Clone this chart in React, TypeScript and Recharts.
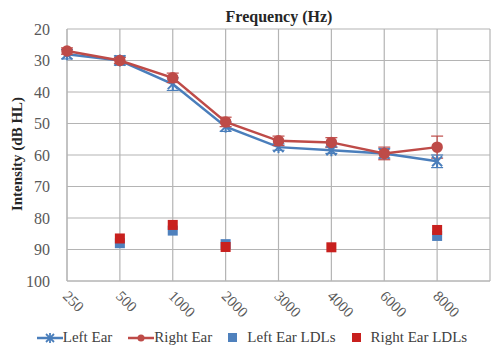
import React from 'react';
import { ComposedChart, Line, XAxis, YAxis, CartesianGrid, Legend, ErrorBar } from 'recharts';

const categories = ['250', '500', '1000', '2000', '3000', '4000', '6000', '8000'];
const leftEar = [28, 30, 37.5, 51, 57.5, 58.5, 59.5, 62];
const rightEar = [27, 30, 35.5, 49.5, 55.5, 56, 59.5, 57.5];
const leftErr = [1.5, 1.5, 2, 1.5, 1, 1, 1.5, 2];
const rightErr = [1, 1, 1.5, 1.5, 1.5, 1.5, 2, 3.5];
const leftLdl = [null, 88, 84, 88.3, null, null, null, 85.7];
const rightLdl = [null, 86.5, 82.2, 89.2, null, 89.3, null, 83.8];
const yTicks = [20, 30, 40, 50, 60, 70, 80, 90, 100];

const BLUE = '#4a7ebb';
const RED = '#be4b48';
const SQ_BLUE = '#4f81bd';
const SQ_RED = '#c8201e';
const FONT = "'Times New Roman', 'Liberation Serif', Times, serif";

const data = categories.map((c, i) => ({
    idx: i,
    left: leftEar[i],
    right: rightEar[i],
    leftErr: leftErr[i],
    rightErr: rightErr[i],
    leftLdl: leftLdl[i],
    rightLdl: rightLdl[i],
}));

const StarDot = (props: any) => {
    const { cx, cy } = props;
    if (cx == null || cy == null) return null;
    const s = 5;
    return (
        <g stroke={BLUE} strokeWidth={2}>
            <line x1={cx - s} y1={cy - s} x2={cx + s} y2={cy + s} />
            <line x1={cx - s} y1={cy + s} x2={cx + s} y2={cy - s} />
            <line x1={cx} y1={cy - s - 1} x2={cx} y2={cy + s + 1} />
        </g>
    );
};

const squareDot = (color: string) => (props: any) => {
    const { cx, cy, value } = props;
    if (cx == null || cy == null || value == null) return null;
    return <rect x={cx - 5} y={cy - 5} width={10} height={10} fill={color} />;
};

const XTick = (props: any) => {
    const { x, y, payload } = props;
    return (
        <text
            transform={`translate(${x - 5}, ${y + 8}) rotate(45)`}
            textAnchor="start"
            style={{ fontFamily: FONT }}
            fontSize={15}
            fill="#595959"
        >
            {categories[payload.value]}
        </text>
    );
};

const LegendContent = () => (
    <div style={{ display: 'flex', justifyContent: 'center', gap: 16, fontFamily: FONT, fontSize: 15, color: '#404040', marginLeft: 14 }}>
        <span style={{ display: 'flex', alignItems: 'center' }}>
            <svg width={26} height={12}>
                <line x1={0} y1={6} x2={26} y2={6} stroke={BLUE} strokeWidth={2.5} />
                <g stroke={BLUE} strokeWidth={1.8}>
                    <line x1={9} y1={2} x2={17} y2={10} />
                    <line x1={9} y1={10} x2={17} y2={2} />
                    <line x1={13} y1={1} x2={13} y2={11} />
                </g>
            </svg>
            Left Ear
        </span>
        <span style={{ display: 'flex', alignItems: 'center' }}>
            <svg width={26} height={12}>
                <line x1={0} y1={6} x2={26} y2={6} stroke={RED} strokeWidth={2.5} />
                <circle cx={13} cy={6} r={3.5} fill={RED} />
            </svg>
            Right Ear
        </span>
        <span style={{ display: 'flex', alignItems: 'center', gap: 9 }}>
            <svg width={10} height={10}><rect width={9} height={9} fill={SQ_BLUE} /></svg>
            Left Ear LDLs
        </span>
        <span style={{ display: 'flex', alignItems: 'center', gap: 9 }}>
            <svg width={10} height={10}><rect width={9} height={9} fill={SQ_RED} /></svg>
            Right Ear LDLs
        </span>
    </div>
);

export default function App() {
    return (
        <div style={{ position: 'absolute', left: 0, top: 0, width: 492, height: 351, background: '#fff' }}>
            <ComposedChart
                width={492}
                height={351}
                data={data}
                margin={{ top: 29, right: 2, left: 0, bottom: 0 }}
            >
                <text x={279} y={22} textAnchor="middle" style={{ fontFamily: FONT }} fontSize={16} fontWeight="bold" fill="#262626">
                    Frequency  (Hz)
                </text>
                <text
                    transform="translate(22, 154) rotate(-90)"
                    textAnchor="middle"
                    style={{ fontFamily: FONT }}
                    fontSize={15}
                    fontWeight="bold"
                    fill="#262626"
                >
                    Intensity (dB HL)
                </text>
                <CartesianGrid stroke="#b4b4b4" strokeWidth={1.2} />
                <XAxis
                    dataKey="idx"
                    type="number"
                    domain={[0, 8]}
                    ticks={[0, 1, 2, 3, 4, 5, 6, 7]}
                    tick={<XTick />}
                    tickLine={false}
                    axisLine={{ stroke: '#b4b4b4' }}
                    height={48}
                    interval={0}
                />
                <YAxis
                    reversed
                    domain={[20, 100]}
                    ticks={yTicks}
                    width={67}
                    tickLine={false}
                    axisLine={{ stroke: '#b4b4b4' }}
                    tickMargin={11}
                    tick={{ fill: '#595959', fontSize: 16, style: { fontFamily: FONT } }}
                />
                <Legend verticalAlign="bottom" height={22} content={<LegendContent />} />
                <Line
                    dataKey="left"
                    stroke={BLUE}
                    strokeWidth={2.5}
                    dot={<StarDot />}
                    isAnimationActive={false}
                >
                    <ErrorBar dataKey="leftErr" direction="y" stroke={BLUE} width={6} strokeWidth={1.2} />
                </Line>
                <Line
                    dataKey="right"
                    stroke={RED}
                    strokeWidth={2.5}
                    dot={{ r: 4.5, fill: RED, stroke: RED }}
                    isAnimationActive={false}
                >
                    <ErrorBar dataKey="rightErr" direction="y" stroke={RED} width={6} strokeWidth={1.2} />
                </Line>
                <Line
                    dataKey="leftLdl"
                    stroke="none"
                    dot={squareDot(SQ_BLUE)}
                    activeDot={false}
                    isAnimationActive={false}
                />
                <Line
                    dataKey="rightLdl"
                    stroke="none"
                    dot={squareDot(SQ_RED)}
                    activeDot={false}
                    isAnimationActive={false}
                />
            </ComposedChart>
        </div>
    );
}
